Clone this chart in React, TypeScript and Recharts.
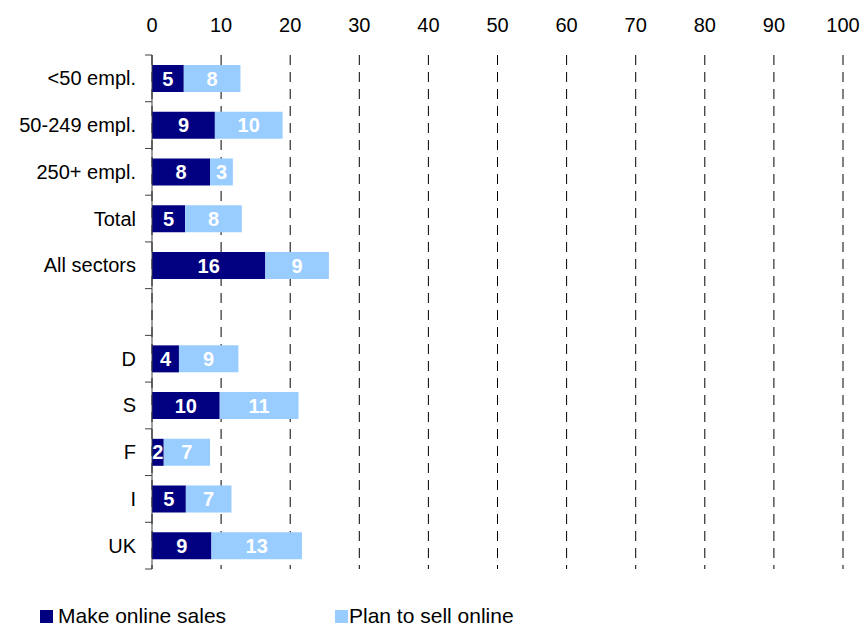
import { BarChart, Bar, XAxis, YAxis, CartesianGrid, Legend, LabelList } from 'recharts';

const categories = ['<50 empl.', '50-249 empl.', '250+ empl.', 'Total', 'All sectors', '', 'D', 'S', 'F', 'I', 'UK'];
const makeOnline = [4.6, 9.1, 8.4, 4.8, 16.4, null, 3.9, 9.8, 1.7, 4.9, 8.6];
const planOnline = [8.2, 9.8, 3.3, 8.2, 9.2, null, 8.6, 11.4, 6.7, 6.6, 13.1];
const xTicks = [0, 10, 20, 30, 40, 50, 60, 70, 80, 90, 100];

const NAVY = '#000080';
const LIGHT = '#99CCFF';
const FONT = '"Liberation Sans", Arial, sans-serif';

const W = 864;
const H = 628;
const PLOT_LEFT = 152;
const PLOT_TOP = 55;
const PLOT_BOTTOM = 569;
const BAND = (PLOT_BOTTOM - PLOT_TOP) / categories.length;

const data = categories.map((name, i) => ({ name, make: makeOnline[i], plan: planOnline[i] }));

function YTick(props: any) {
  const { y, payload, index } = props;
  const top = y - BAND / 2;
  const bottom = y + BAND / 2;
  return (
    <g>
      <line x1={PLOT_LEFT - 7} x2={PLOT_LEFT} y1={top} y2={top} stroke="#404040" />
      {index === categories.length - 1 && (
        <line x1={PLOT_LEFT - 7} x2={PLOT_LEFT} y1={bottom} y2={bottom} stroke="#404040" />
      )}
      <text x={PLOT_LEFT - 16} y={y} dy="0.35em" textAnchor="end" fill="#000" fontSize={20} fontFamily={FONT}>
        {payload.value}
      </text>
    </g>
  );
}

function XTick(props: any) {
  const { x, payload } = props;
  return (
    <text x={x} y={32} textAnchor="middle" fill="#000" fontSize={20} fontFamily={FONT}>
      {payload.value}
    </text>
  );
}

function LegendContent() {
  const items = [
    { label: 'Make online sales', color: NAVY, box: 40, text: 58 },
    { label: 'Plan to sell online', color: LIGHT, box: 335, text: 349 },
  ];
  return (
    <div style={{ position: 'relative', width: W, height: 59 }}>
      {items.map((it) => (
        <div key={it.label}>
          <div style={{ position: 'absolute', left: it.box, top: 41, width: 13, height: 13, background: it.color }} />
          <div style={{ position: 'absolute', left: it.text, top: 37, width: 240, fontSize: 21, lineHeight: '20px', fontFamily: FONT, color: '#000', whiteSpace: 'nowrap' }}>
            {it.label}
          </div>
        </div>
      ))}
    </div>
  );
}

const fmt = (v: unknown) => (typeof v === 'number' ? String(Math.round(v)) : '');

export default function App() {
  return (
    <div style={{ position: 'absolute', left: 0, top: 0, background: '#fff' }}>
      <BarChart
        width={W}
        height={H}
        data={data}
        layout="vertical"
        margin={{ top: 0, right: W - 843, left: 0, bottom: 0 }}
      >
        <CartesianGrid horizontal={false} stroke="#000" strokeDasharray="10 7" />
        <XAxis
          type="number"
          orientation="top"
          domain={[0, 100]}
          ticks={xTicks}
          height={PLOT_TOP}
          axisLine={false}
          tickLine={false}
          tick={<XTick />}
          interval={0}
        />
        <YAxis
          type="category"
          dataKey="name"
          width={PLOT_LEFT}
          axisLine={{ stroke: '#404040' }}
          tickLine={false}
          tick={<YTick />}
          interval={0}
        />
        <Legend
          verticalAlign="bottom"
          content={<LegendContent />}
          wrapperStyle={{ left: 0, width: W, height: H - PLOT_BOTTOM }}
        />
        <Bar dataKey="make" stackId="a" fill={NAVY} barSize={27} isAnimationActive={false}>
          <LabelList dataKey="make" position="center" formatter={fmt} fill="#fff" fontSize={20} fontWeight="bold" fontFamily={FONT} />
        </Bar>
        <Bar dataKey="plan" stackId="a" fill={LIGHT} barSize={27} isAnimationActive={false}>
          <LabelList dataKey="plan" position="center" formatter={fmt} fill="#fff" fontSize={20} fontWeight="bold" fontFamily={FONT} />
        </Bar>
      </BarChart>
    </div>
  );
}
